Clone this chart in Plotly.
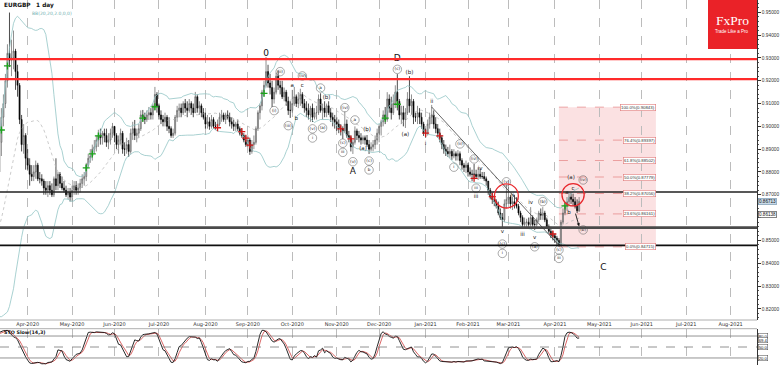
import numpy as np
import pandas as pd
import plotly.graph_objects as go

# ---------------- data (EURGBP daily, prices in pips /10000) ----------------
FIRST_DAY = "2020-02-13"      # first bar (indicator warm-up, off-screen)
VISIBLE_DAY = "2020-03-13"    # first visible bar
AXIS_END = "2021-08-31"
FIRST_OPEN = 8350

close_pips = [
    # warm-up Feb 13 - Mar 12 2020
    8345, 8330, 8320, 8310, 8315, 8350, 8375, 8385, 8410, 8470, 8530, 8610, 8640, 8710, 8690, 8760, 8760, 8730, 8780, 8800, 8930,
    # Mar 2020
    9040, 9100, 9200, 9320, 9290, 9300, 9330, 9240, 9180, 9030, 8920, 8960, 8860,
    # Apr 2020
    8830, 8790, 8780, 8800, 8830, 8770, 8770, 8760, 8730, 8720, 8740, 8720, 8700, 8770, 8740, 8790, 8750, 8730, 8720, 8700, 8710, 8690,
    # May 2020
    8720, 8740, 8720, 8730, 8750, 8770, 8780, 8830, 8860, 8870, 8900, 8910, 8940, 8960, 8950, 8970, 8960, 8930, 8940, 8970, 9000,
    # Jun 2020
    8960, 8920, 8940, 8970, 8900, 8900, 8920, 8890, 8970, 8990, 8960, 8970, 8990, 9050, 9040, 9030, 9050, 9060, 9050, 9090, 9140, 9090,
    # Jul 2020
    9050, 9030, 9020, 9040, 9000, 8990, 8960, 8970, 9040, 9070, 9080, 9060, 9100, 9080, 9070, 9100, 9080, 9060, 9130, 9080, 9090, 9060, 9040,
    # Aug 2020
    9010, 9020, 9000, 9030, 9000, 9000, 9010, 9040, 9050, 9030, 9050, 9040, 9020, 9010, 9000, 9010, 8990, 8970, 8960, 8940, 8920,
    # Sep 2020
    8940, 8890, 8920, 8930, 8990, 9060, 9090, 9150, 9180, 9240, 9190, 9170, 9120, 9150, 9220, 9180, 9170, 9130, 9150, 9110, 9070, 9070,
    # Oct 2020
    9100, 9130, 9100, 9120, 9140, 9100, 9080, 9070, 9050, 9080, 9040, 9060, 9060, 9120, 9070, 9080, 9060, 9090, 9060, 9040, 9030, 9020,
    # Nov 2020
    9010, 8990, 8990, 8980, 9010, 8960, 8950, 8910, 8930, 8980, 8960, 8950, 8940, 8950, 8940, 8920, 8900, 8910, 8920, 8940, 8970,
    # Dec 2020
    9000, 9020, 9050, 9030, 9120, 9080, 9060, 9100, 9150, 9110, 9050, 9060, 9030, 9060, 9120, 9090, 9110, 9040, 9040, 9060, 9040, 9010, 8970,
    # Jan 2021
    8970, 9010, 9040, 9050, 9010, 8990, 8970, 8950, 8920, 8900, 8890, 8880, 8890, 8870, 8880, 8870, 8880, 8850, 8830, 8820, 8830,
    # Feb 2021
    8800, 8790, 8790, 8790, 8780, 8790, 8780, 8780, 8770, 8760, 8720, 8690, 8680, 8670, 8650, 8620, 8600, 8590, 8660, 8680,
    # Mar 2021
    8690, 8660, 8670, 8660, 8650, 8620, 8600, 8570, 8580, 8580, 8570, 8600, 8570, 8570, 8590, 8620, 8610, 8620, 8590, 8560, 8540, 8520, 8520,
    # Apr 2021
    8510, 8500, 8480, 8580, 8620, 8650, 8670, 8690, 8680, 8670, 8650, 8630, 8671.3,
]
high_pips = [
    8370, 8355, 8345, 8340, 8330, 8370, 8395, 8410, 8430, 8490, 8560, 8640, 8700, 8730, 8730, 8780, 8790, 8860, 8800, 8830, 8960,
    9080, 9140, 9230, 9360, 9499, 9380, 9420, 9340, 9270, 9190, 9050, 9010, 8970,
    8900, 8860, 8830, 8830, 8850, 8840, 8800, 8790, 8770, 8760, 8760, 8760, 8750, 8780, 8860, 8800, 8800, 8780, 8760, 8740, 8730, 8730,
    8740, 8760, 8760, 8750, 8770, 8790, 8800, 8840, 8880, 8900, 8920, 8940, 8960, 8985, 8990, 8980, 8990, 8990, 8970, 8990, 9015,
    9000, 8970, 8960, 8990, 8980, 8930, 8950, 8940, 8990, 9020, 9028, 8990, 9010, 9070, 9072, 9060, 9070, 9085, 9080, 9100, 9173, 9150,
    9100, 9070, 9050, 9060, 9050, 9040, 9000, 8990, 9050, 9090, 9100, 9100, 9110, 9120, 9110, 9120, 9110, 9100, 9151, 9140, 9110, 9100, 9080,
    9060, 9050, 9040, 9050, 9040, 9020, 9030, 9060, 9072, 9060, 9060, 9070, 9060, 9040, 9030, 9020, 9030, 9000, 8990, 8970, 8960,
    8960, 8950, 8940, 8960, 9000, 9070, 9100, 9160, 9200, 9304, 9270, 9230, 9200, 9170, 9235, 9245, 9200, 9200, 9170, 9160, 9130, 9110,
    9160, 9173, 9140, 9150, 9165, 9150, 9120, 9110, 9100, 9090, 9100, 9080, 9090, 9140, 9145, 9100, 9110, 9100, 9110, 9080, 9060, 9050,
    9040, 9030, 9010, 9000, 9065, 9030, 8980, 8960, 8940, 9000, 8990, 8980, 8970, 8960, 8960, 8962, 8940, 8930, 8940, 8960, 8990,
    9010, 9030, 9070, 9085, 9150, 9140, 9130, 9140, 9180, 9229, 9120, 9090, 9090, 9080, 9150, 9220, 9140, 9120, 9060, 9090, 9080, 9060, 9020,
    8990, 9030, 9060, 9094, 9070, 9040, 9010, 8990, 8960, 8940, 8920, 8910, 8920, 8900, 8900, 8890, 8896, 8890, 8860, 8840, 8850,
    8840, 8820, 8810, 8835, 8810, 8820, 8815, 8800, 8800, 8780, 8760, 8730, 8710, 8700, 8680, 8670, 8640, 8620, 8680, 8745,
    8735, 8700, 8690, 8700, 8690, 8660, 8630, 8610, 8600, 8595, 8600, 8646, 8610, 8590, 8600, 8630, 8640, 8646, 8630, 8600, 8570, 8560, 8540,
    8530, 8520, 8510, 8590, 8640, 8670, 8690, 8712, 8710, 8705, 8690, 8680, 8690,
]
low_pips = [
    8330, 8320, 8310, 8290, 8290, 8300, 8340, 8350, 8370, 8400, 8460, 8520, 8600, 8630, 8670, 8680, 8720, 8700, 8680, 8730, 8790,
    8870, 9000, 9080, 9170, 9260, 9220, 9250, 9160, 9130, 9010, 8890, 8880, 8810,
    8810, 8740, 8760, 8760, 8770, 8760, 8750, 8740, 8700, 8700, 8690, 8700, 8690, 8690, 8720, 8720, 8730, 8720, 8710, 8690, 8680, 8670,
    8670, 8700, 8700, 8700, 8710, 8730, 8740, 8760, 8820, 8840, 8850, 8880, 8890, 8910, 8920, 8920, 8930, 8910, 8900, 8920, 8950,
    8930, 8900, 8880, 8920, 8880, 8870, 8880, 8866, 8880, 8940, 8940, 8930, 8950, 8980, 9020, 9010, 9020, 9028, 9030, 9030, 9070, 9060,
    9030, 9010, 9000, 9000, 8980, 8970, 8950, 8949, 8960, 9020, 9040, 9040, 9050, 9060, 9040, 9060, 9050, 9040, 9060, 9060, 9050, 9040, 9030,
    8990, 8990, 8985, 8990, 8990, 8985, 8990, 9000, 9020, 9020, 9010, 9030, 9000, 8990, 8980, 8980, 8980, 8960, 8950, 8930, 8910,
    8910, 8875, 8880, 8900, 8920, 8980, 9030, 9070, 9130, 9170, 9170, 9140, 9085, 9100, 9140, 9160, 9140, 9120, 9110, 9090, 9050, 9037,
    9060, 9090, 9085, 9080, 9090, 9080, 9060, 9040, 9030, 9020, 9019, 9030, 9030, 9050, 9060, 9030, 9040, 9040, 9050, 9020, 9000, 8990,
    8980, 8970, 8960, 8945, 8970, 8950, 8930, 8890, 8879, 8920, 8940, 8930, 8920, 8923, 8920, 8910, 8879, 8890, 8890, 8900, 8920,
    8930, 8960, 9000, 9010, 9020, 9060, 9030, 9050, 9080, 9070, 9030, 9010, 9000, 8993, 9050, 9060, 9050, 9010, 9020, 9010, 9010, 8990, 8958,
    8950, 8960, 8990, 9010, 8990, 8970, 8950, 8930, 8900, 8880, 8870, 8866, 8860, 8853, 8860, 8850, 8850, 8830, 8810, 8800, 8795,
    8780, 8780, 8760, 8772, 8770, 8765, 8770, 8770, 8760, 8740, 8700, 8680, 8660, 8650, 8640, 8610, 8590, 8554, 8580, 8640,
    8660, 8640, 8633, 8640, 8640, 8610, 8580, 8550, 8555, 8555, 8560, 8560, 8560, 8546, 8560, 8580, 8590, 8590, 8580, 8550, 8530, 8510, 8500,
    8490, 8480, 8472, 8475, 8570, 8610, 8630, 8650, 8660, 8650, 8640, 8620, 8625,
]

# horizontal levels
red_levels = [0.9295, 0.9207]
black_levels = [0.8712, 0.8556, 0.8478]
black_widths = [1.6, 2.6, 1.6]
black_colors = ["#202020", "#4a4a4a", "#101010"]

# Fibonacci box
fib_start, fib_end = "2021-04-05", "2021-06-10"
fib_low, fib_high = 0.84715, 0.90843
fib_ratios = [0.0, 23.6, 38.2, 50.0, 61.8, 76.4, 100.0]

# trend line (date, price)
trend_dates = ["2021-01-06", "2021-04-05"]
trend_prices = [0.9085, 0.8478]

# red circles (centre date, centre price, half-width in bars, half-height in price)
circle_dates = ["2021-02-26", "2021-04-14"]
circle_prices = [0.8695, 0.8700]
circle_halfbars = [5.9, 5.5]
circle_halfprice = [0.0053, 0.0049]

# arrow (tail -> head)
arrow_dates = ["2021-04-15", "2021-04-19"]
arrow_prices = [0.8624, 0.8562]

# signal crosses
green_dates = ["2020-03-13", "2020-03-18", "2020-05-12", "2020-05-15", "2020-05-20", "2020-06-19",
               "2020-06-29", "2020-09-11", "2020-12-04", "2020-12-14", "2021-04-08"]
green_prices = [0.8984, 0.9265, 0.8818, 0.8879, 0.8958, 0.9036, 0.9086, 0.9145, 0.9036, 0.9097, 0.8651]
red_dates = ["2020-08-11", "2020-08-27", "2020-08-31", "2020-09-02", "2020-11-04", "2020-11-11",
             "2021-01-01", "2021-01-12", "2021-02-04", "2021-02-17", "2021-03-31"]
red_prices = [0.8994, 0.8977, 0.8948, 0.8918, 0.8989, 0.8945, 0.8970, 0.8958, 0.8772, 0.8692, 0.8528]

# wave labels
big_labels = [("2020-09-14", 0.9318, "0"), ("2020-12-14", 0.9296, "D"),
              ("2020-11-12", 0.8800, "A"), ("2021-05-05", 0.8379, "C")]
plain_labels = [
    ("2020-10-01", 0.9177, "a"), ("2020-10-05", 0.9033, "b"), ("2020-10-08", 0.9177, "c"),
    ("2020-10-26", 0.9126, "(b)"), ("2020-11-19", 0.8901, "(a)"), ("2020-11-23", 0.8984, "(b)"),
    ("2020-12-22", 0.9237, "(b)"), ("2020-12-18", 0.8962, "(a)"), ("2021-01-01", 0.8926, "i"),
    ("2021-01-06", 0.9108, "ii"), ("2021-02-09", 0.8816, "iv"), ("2021-02-05", 0.8693, "iii"),
    ("2021-03-03", 0.8695, "ii"), ("2021-02-24", 0.8537, "v"), ("2021-03-16", 0.8667, "iv"),
    ("2021-03-10", 0.8524, "iii"), ("2021-03-18", 0.8514, "v"), ("2021-04-13", 0.8774, "(a)"),
    ("2021-04-09", 0.8709, "a"), ("2021-04-14", 0.8729, "c"), ("2021-04-12", 0.8623, "b"),
]
circled_labels = [
    ("2020-09-23", 0.9240, "(ii)"), ("2020-09-18", 0.9069, "(i)"), ("2020-10-08", 0.9221, "(iv)"),
    ("2020-09-29", 0.9003, "(iii)"), ("2020-10-15", 0.8989, "(v)"), ("2020-10-15", 0.8949, "i"),
    ("2020-10-21", 0.9168, "a"), ("2020-10-22", 0.8993, "(a)"), ("2020-11-06", 0.9082, "(iv)"),
    ("2020-11-05", 0.8926, "(c)"), ("2020-11-05", 0.8886, "iii"), ("2020-11-13", 0.9028, "a"),
    ("2020-11-12", 0.8845, "(v)"), ("2020-11-24", 0.8848, "(c)"), ("2020-11-24", 0.8809, "b"),
    ("2020-12-14", 0.9250, "(c)"), ("2021-01-26", 0.8923, "(ii)"), ("2021-01-21", 0.8821, "i"),
    ("2021-02-04", 0.8857, "(iv)"), ("2021-02-05", 0.8729, "iii"), ("2021-02-26", 0.8757, "(v)"),
    ("2021-02-24", 0.8484, "(c)"), ("2021-02-24", 0.8443, "i"), ("2021-03-24", 0.8670, "(b)"),
    ("2021-03-18", 0.8472, "(a)"), ("2021-04-05", 0.8458, "(c)"), ("2021-04-05", 0.8421, "iii"),
    ("2021-04-21", 0.8765, "(iv)"), ("2021-04-21", 0.8546, "(b)"),
]

price_tags = [(0.86713, "0.86713", "#c9dae8", "#6f8fa8"), (0.86138, "0.86138", "#ffffff", "#333333")]
stoch_tags = [(80.0, "80.0"), (69.4, "69.4"), (50.0, "50.0"), (20.0, "20.0")]
y_ticks = [0.82, 0.83, 0.84, 0.85, 0.86, 0.87, 0.88, 0.89, 0.90, 0.91, 0.92, 0.93, 0.94, 0.95]
hidden_tick = 0.86   # covered by the 0.86138 price tag in the reference

# ---------------- build ----------------
days = pd.bdate_range(FIRST_DAY, AXIS_END)
n_warm = days.get_loc(pd.Timestamp(VISIBLE_DAY))
positions = np.arange(len(days)) - n_warm


def pos(d):
    return int(days.get_loc(pd.Timestamp(d))) - n_warm


n = len(close_pips)
x = positions[:n]
close = np.array(close_pips, dtype=float) / 10000
high = np.array(high_pips, dtype=float) / 10000
low = np.array(low_pips, dtype=float) / 10000
openp = np.r_[FIRST_OPEN / 10000, close[:-1]]
high = np.maximum(high, np.maximum(openp, close))
low = np.minimum(low, np.minimum(openp, close))

cs = pd.Series(close)
mid = cs.rolling(20).mean()
sd = cs.rolling(20).std(ddof=0)
bb_up, bb_lo = mid + 2 * sd, mid - 2 * sd

ll = pd.Series(low).rolling(14).min()
hh = pd.Series(high).rolling(14).max()
rawk = 100 * (cs - ll) / (hh - ll)
stk = rawk.rolling(3).mean()
std_ = stk.rolling(3).mean()

month_starts = pd.date_range("2020-04-01", "2021-08-01", freq="MS")
tick_vals, tick_text = [], []
for m in month_starts:
    d = days[days >= m][0]
    tick_vals.append(pos(d))
    tick_text.append(m.strftime("%b-%Y"))

y_text = ["" if abs(v - hidden_tick) < 1e-9 else f"{v:.5f}" for v in y_ticks]

W, H = 782, 366
PLOT_R = 757
XR = [-0.69, 374.05]
YR = [0.8151, 0.9554]
price_dom = [(H - 320) / H, 1.0]
stoch_dom = [(H - 365.3) / H, (H - 328.7) / H]

fig = go.Figure()

fig.add_trace(go.Scatter(x=x, y=bb_up, mode="lines", line=dict(color="#93c5c5", width=0.8), hoverinfo="skip"))
fig.add_trace(go.Scatter(x=x, y=bb_lo, mode="lines", line=dict(color="#93c5c5", width=0.8), hoverinfo="skip"))
fig.add_trace(go.Scatter(x=x, y=mid, mode="lines", line=dict(color="#b4b4b4", width=0.7, dash="dot"), hoverinfo="skip"))

fig.add_trace(go.Candlestick(
    x=x, open=openp, high=high, low=low, close=close, whiskerwidth=0,
    increasing=dict(line=dict(color="#606060", width=0.7), fillcolor="#cfcfcf"),
    decreasing=dict(line=dict(color="#000000", width=0.7), fillcolor="#000000"),
    hoverinfo="skip"))

fig.add_trace(go.Scatter(x=[pos(d) for d in green_dates], y=green_prices, mode="markers",
                         marker=dict(symbol="cross-thin", size=5, line=dict(color="#1aa31a", width=1.3))))
fig.add_trace(go.Scatter(x=[pos(d) for d in red_dates], y=red_prices, mode="markers",
                         marker=dict(symbol="cross-thin", size=5, line=dict(color="#d11a1a", width=1.3))))

fig.add_trace(go.Scatter(x=[pos(d) for d, p, t in plain_labels], y=[p for d, p, t in plain_labels],
                         text=[t for d, p, t in plain_labels], mode="text",
                         textfont=dict(size=5.5, color="#222222", family="DejaVu Sans")))
fig.add_trace(go.Scatter(x=[pos(d) for d, p, t in circled_labels], y=[p for d, p, t in circled_labels],
                         text=[t for d, p, t in circled_labels], mode="markers+text", textposition="middle center",
                         marker=dict(symbol="circle-open", size=8.5, color="#555555", line=dict(width=0.5)),
                         textfont=dict(size=4.2, color="#222222", family="DejaVu Sans")))
fig.add_trace(go.Scatter(x=[pos(d) for d, p, t in big_labels], y=[p for d, p, t in big_labels],
                         text=[t for d, p, t in big_labels], mode="text",
                         textfont=dict(size=9, color="#111111", family="DejaVu Sans")))

# stochastic
fig.add_trace(go.Scatter(x=x, y=std_, mode="lines", line=dict(color="#d04040", width=0.8),
                         xaxis="x2", yaxis="y2", hoverinfo="skip"))
fig.add_trace(go.Scatter(x=x, y=stk, mode="lines", line=dict(color="#111111", width=0.9),
                         xaxis="x2", yaxis="y2", hoverinfo="skip"))

shapes = []
# fib box
fx0, fx1 = pos(fib_start), pos(fib_end)
shapes.append(dict(type="rect", xref="x", yref="y", x0=fx0, x1=fx1, y0=fib_low, y1=fib_high,
                   fillcolor="rgba(236,120,124,0.22)", line=dict(width=0), layer="below"))
annotations = []
for r in fib_ratios:
    lvl = fib_low + (fib_high - fib_low) * r / 100
    shapes.append(dict(type="line", xref="x", yref="y", x0=fx0, x1=fx1, y0=lvl, y1=lvl,
                       line=dict(color="#e07070", width=0.6, dash="dash"), layer="below"))
    annotations.append(dict(x=fx1, y=lvl, xref="x", yref="y", xanchor="right", yanchor="middle",
                            text=f"{r:.1f}%({lvl:.5f})", showarrow=False,
                            font=dict(size=4.3, color="#333333", family="Liberation Sans"),
                            bgcolor="#ffffff", bordercolor="#e07878", borderwidth=0.6, borderpad=0.5))

for lv in red_levels:
    shapes.append(dict(type="line", xref="x domain", yref="y", x0=0, x1=1, y0=lv, y1=lv,
                       line=dict(color="#ff2a2a", width=2.2)))
for lv, w, c in zip(black_levels, black_widths, black_colors):
    shapes.append(dict(type="line", xref="x domain", yref="y", x0=0, x1=1, y0=lv, y1=lv,
                       line=dict(color=c, width=w)))

shapes.append(dict(type="line", xref="x", yref="y", x0=pos(trend_dates[0]), x1=pos(trend_dates[1]),
                   y0=trend_prices[0], y1=trend_prices[1], line=dict(color="#404040", width=0.8)))

for d, p, hb, hp in zip(circle_dates, circle_prices, circle_halfbars, circle_halfprice):
    c = pos(d)
    shapes.append(dict(type="circle", xref="x", yref="y", x0=c - hb, x1=c + hb, y0=p - hp, y1=p + hp,
                       line=dict(color="#e8262b", width=1.3)))

# stochastic levels
for lv, dash in [(80, "solid"), (50, "dash"), (20, "solid")]:
    shapes.append(dict(type="line", xref="x2 domain", yref="y2", x0=0, x1=1, y0=lv, y1=lv,
                       line=dict(color="#777777", width=0.8, dash=dash)))
# panel borders
for yy in [price_dom[0], stoch_dom[1]]:
    shapes.append(dict(type="line", xref="paper", yref="paper", x0=0, x1=1, y0=yy, y1=yy,
                       line=dict(color="#9a9a9a", width=0.8)))

# logo
lx0, lx1 = 708 / PLOT_R, 1.0
lxc = (lx0 + lx1) / 2
shapes.append(dict(type="rect", xref="paper", yref="paper", x0=lx0, x1=lx1, y0=1 - 49 / H, y1=1,
                   fillcolor="#ea2228", line=dict(width=0)))
annotations.append(dict(x=lxc, y=1 - 21 / H, xref="paper", yref="paper", xanchor="center", yanchor="middle",
                        text="FxPro", showarrow=False,
                        font=dict(size=13.5, color="white", family="Liberation Serif")))
annotations.append(dict(x=lxc, y=1 - 31.5 / H, xref="paper", yref="paper", xanchor="center", yanchor="middle",
                        text="Trade Like a Pro", showarrow=False,
                        font=dict(size=4.5, color="white", family="Liberation Sans")))

# texts
annotations.append(dict(x=2 / PLOT_R, y=1 - 5 / H, xref="paper", yref="paper", xanchor="left", yanchor="middle",
                        text="<b>EURGBP</b>   <b>1 day</b>", showarrow=False,
                        font=dict(size=5.8, color="#111111", family="DejaVu Sans")))
annotations.append(dict(x=30 / PLOT_R, y=1 - 13 / H, xref="paper", yref="paper", xanchor="left", yanchor="middle",
                        text="BB(20,20,2.0,0,0)", showarrow=False,
                        font=dict(size=4.5, color="#6fb0b0", family="DejaVu Sans")))
annotations.append(dict(x=2 / PLOT_R, y=1 - 332.5 / H, xref="paper", yref="paper", xanchor="left", yanchor="middle",
                        text="<b>STO Slow(14,3)</b>", showarrow=False,
                        font=dict(size=4.8, color="#111111", family="DejaVu Sans")))

for p, t, bg, bc in price_tags:
    annotations.append(dict(x=1, y=p, xref="paper", yref="y", xanchor="left", yanchor="middle", xshift=1,
                            text=t, showarrow=False, font=dict(size=4.6, color="#111111", family="Liberation Sans"),
                            bgcolor=bg, bordercolor=bc, borderwidth=0.6, borderpad=0.4))
for v, t in stoch_tags:
    annotations.append(dict(x=1, y=v, xref="paper", yref="y2", xanchor="left", yanchor="middle", xshift=1,
                            text=t, showarrow=False, font=dict(size=4.2, color="#111111", family="Liberation Sans"),
                            bgcolor="#ffffff", bordercolor="#444444", borderwidth=0.5, borderpad=0.2))

annotations.append(dict(x=pos(arrow_dates[1]), y=arrow_prices[1], ax=pos(arrow_dates[0]), ay=arrow_prices[0],
                        xref="x", yref="y", axref="x", ayref="y", showarrow=True, text="",
                        arrowhead=2, arrowsize=0.7, arrowwidth=0.9, arrowcolor="#111111"))

grid = dict(showgrid=True, gridcolor="#bcbcbc", gridwidth=0.6, griddash="dash")
fig.update_layout(
    width=W, height=H, margin=dict(l=0, r=W - PLOT_R, t=0, b=0),
    paper_bgcolor="white", plot_bgcolor="white", showlegend=False,
    font=dict(family="DejaVu Sans", size=5, color="#222222"),
    xaxis=dict(domain=[0, 1], range=XR, anchor="y", tickvals=tick_vals, ticktext=tick_text,
               tickfont=dict(size=5, color="#333333"), ticks="", zeroline=False,
               rangeslider=dict(visible=False), showline=False, **grid),
    yaxis=dict(domain=price_dom, range=YR, side="right", anchor="x", tickvals=y_ticks, ticktext=y_text,
               tickfont=dict(size=4.8, color="#333333", family="Liberation Sans"), ticks="outside", ticklen=3,
               tickcolor="#333333",
               showline=True, linecolor="#333333", linewidth=0.8, showgrid=False, zeroline=False,
               minor=dict(dtick=0.002, ticks="outside", ticklen=1.5, tickcolor="#555555", showgrid=False)),
    xaxis2=dict(domain=[0, 1], range=XR, anchor="y2", matches="x", tickvals=tick_vals,
                showticklabels=False, ticks="", zeroline=False, showline=False, **grid),
    yaxis2=dict(domain=stoch_dom, range=[0, 100], side="right", anchor="x2", showticklabels=False,
                ticks="", showline=True, linecolor="#333333", linewidth=0.8, showgrid=False, zeroline=False),
    shapes=shapes, annotations=annotations,
)

fig.write_html("out.html", config={"displayModeBar": False},
               post_script="document.body.style.margin='0';document.body.style.overflow='hidden';")
